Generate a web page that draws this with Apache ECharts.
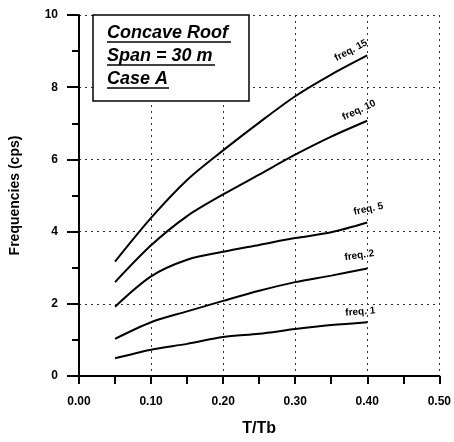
<!DOCTYPE html>
<html>
<head>
<meta charset="utf-8">
<script src="https://cdn.jsdelivr.net/npm/echarts@6/dist/echarts.min.js"></script>
<style>html,body{margin:0;padding:0;background:#fff}#c{width:454px;height:442px}</style>
</head>
<body>
<div id="c"></div>
<script>
const xValues = [0.05, 0.10, 0.15, 0.20, 0.25, 0.30, 0.35, 0.40];
const freq15 = [3.17, 4.38, 5.43, 6.25, 7.02, 7.75, 8.35, 8.88];
const freq10 = [2.60, 3.62, 4.43, 5.03, 5.58, 6.13, 6.63, 7.07];
const freq5  = [1.92, 2.76, 3.22, 3.44, 3.63, 3.82, 3.98, 4.25];
const freq2  = [1.03, 1.49, 1.79, 2.08, 2.36, 2.60, 2.78, 2.98];
const freq1  = [0.49, 0.73, 0.89, 1.08, 1.17, 1.30, 1.41, 1.49];
const seriesNames = ['freq. 15', 'freq. 10', 'freq. 5', 'freq. 2', 'freq. 1'];
const seriesValues = [freq15, freq10, freq5, freq2, freq1];
const xTickLabels = ['0.00', '0.10', '0.20', '0.30', '0.40', '0.50'];
const boxLines = ['Concave Roof', 'Span = 30 m', 'Case A'];

const labelStyle = [
  {offset: [-12, -12], rotate: 28},
  {offset: [-3, -13], rotate: 25},
  {offset: [4, -13], rotate: 12},
  {offset: [-6, -14], rotate: 8},
  {offset: [-6, -11], rotate: 5}
];

const FONT = '"Liberation Sans", Arial, sans-serif';
const chart = echarts.init(document.getElementById('c'));

const series = seriesValues.map((vals, i) => ({
  type: 'line',
  name: seriesNames[i],
  smooth: 0.3,
  symbol: 'none',
  lineStyle: {color: '#000', width: 2},
  data: vals.map((v, j) => {
    const item = {value: [xValues[j], v]};
    if (j === vals.length - 1) {
      item.symbol = 'circle';
      item.symbolSize = 0.1;
      item.label = {
        show: true,
        formatter: seriesNames[i],
        position: 'inside',
        offset: labelStyle[i].offset,
        rotate: labelStyle[i].rotate,
        color: '#000',
        fontFamily: FONT,
        fontWeight: 'bold',
        fontSize: 10
      };
    }
    return item;
  })
}));

const boxLeft = 93, boxTop = 15, boxW = 156, boxH = 86;
const lineYs = [33, 56, 79];
const underlineW = [124, 108, 62];
const graphic = [{
  type: 'rect',
  shape: {x: boxLeft, y: boxTop, width: boxW, height: boxH},
  style: {fill: '#fff', stroke: '#000', lineWidth: 1.5},
  z: 10
}];
boxLines.forEach((t, i) => {
  graphic.push({
    type: 'text', x: 107, y: lineYs[i], z: 11,
    style: {text: t, fill: '#000', font: 'italic bold 18px ' + FONT, textVerticalAlign: 'middle'}
  });
  graphic.push({
    type: 'line', z: 11,
    shape: {x1: 107, y1: lineYs[i] + 9, x2: 107 + underlineW[i], y2: lineYs[i] + 9},
    style: {stroke: '#000', lineWidth: 1.5}
  });
});

chart.setOption({
  animation: false,
  grid: {left: 79, right: 14, top: 15, bottom: 57},
  xAxis: {
    type: 'value', min: 0, max: 0.5, interval: 0.1,
    name: 'T/Tb', nameLocation: 'middle', nameGap: 45,
    nameTextStyle: {color: '#000', fontFamily: FONT, fontWeight: 'bold', fontSize: 16},
    axisLine: {onZero: false, lineStyle: {color: '#000', width: 2}},
    axisTick: {length: 8, lineStyle: {color: '#000', width: 2}},
    minorTick: {show: true, splitNumber: 2, length: 8, lineStyle: {color: '#000', width: 2}},
    axisLabel: {
      margin: 20, color: '#000', fontFamily: FONT, fontWeight: 'bold', fontSize: 12,
      formatter: (v) => xTickLabels[Math.round(v * 10)]
    },
    splitLine: {show: true, lineStyle: {color: '#333', type: [2, 4], width: 1}}
  },
  yAxis: {
    type: 'value', min: 0, max: 10, interval: 2,
    name: 'Frequencies (cps)', nameLocation: 'middle', nameGap: 57,
    nameTextStyle: {color: '#000', fontFamily: FONT, fontWeight: 'bold', fontSize: 14},
    axisLine: {show: true, lineStyle: {color: '#000', width: 2}},
    axisTick: {length: 12, lineStyle: {color: '#000', width: 2}},
    minorTick: {show: true, splitNumber: 2, length: 7, lineStyle: {color: '#000', width: 2}},
    axisLabel: {margin: 21, color: '#000', fontFamily: FONT, fontWeight: 'bold', fontSize: 12},
    splitLine: {show: true, lineStyle: {color: '#333', type: [2, 4], width: 1}}
  },
  series: series,
  graphic: graphic
});
</script>
</body>
</html>
